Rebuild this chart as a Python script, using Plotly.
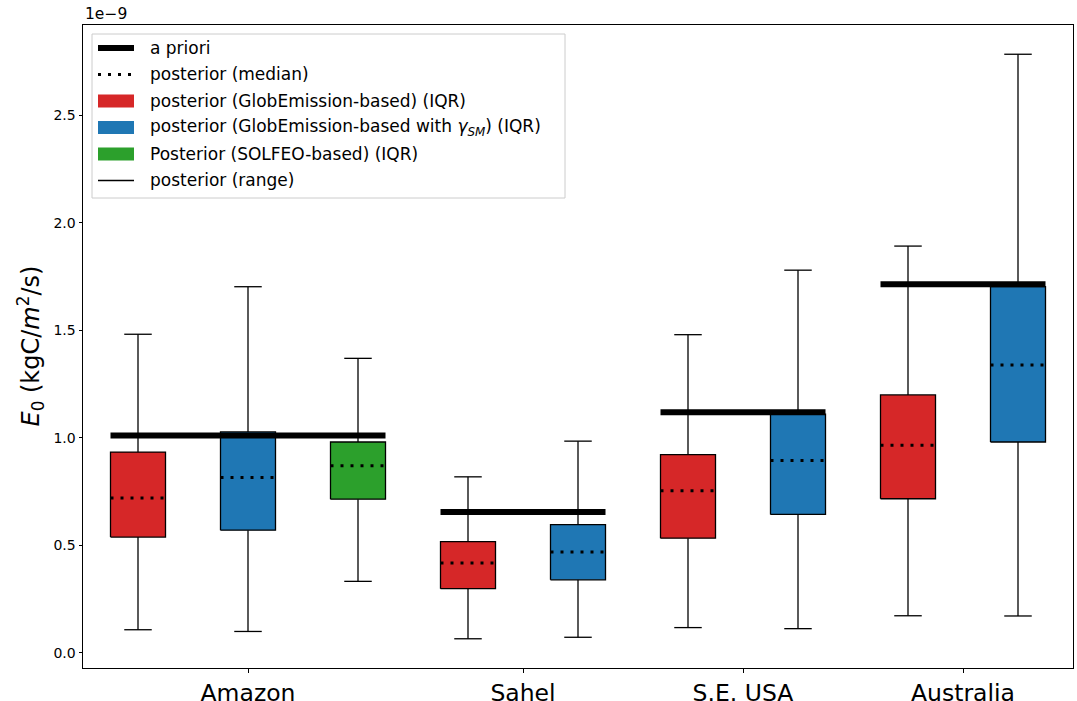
import plotly.graph_objects as go

# ---------------- data (values in units of 1e-9 kgC/m^2/s) ----------------
regions = ["Amazon", "Sahel", "S.E. USA", "Australia"]
region_ticks = [2.0, 4.5, 6.5, 8.5]
prior = [1.011, 0.655, 1.119, 1.714]

box_pos = [1, 2, 3, 4, 5, 6, 7, 8, 9]
box_region = [0, 0, 0, 1, 1, 2, 2, 3, 3]
box_kind = ["ge", "gesm", "solfeo", "ge", "gesm", "ge", "gesm", "ge", "gesm"]
range_lo = [0.108, 0.100, 0.333, 0.066, 0.073, 0.118, 0.113, 0.173, 0.172]
iqr_lo = [0.539, 0.571, 0.715, 0.299, 0.340, 0.534, 0.644, 0.717, 0.981]
median = [0.721, 0.816, 0.871, 0.418, 0.469, 0.754, 0.895, 0.966, 1.339]
iqr_hi = [0.934, 1.028, 0.981, 0.518, 0.597, 0.922, 1.110, 1.200, 1.703]
range_hi = [1.482, 1.703, 1.370, 0.819, 0.985, 1.480, 1.780, 1.892, 2.784]

y_ticks = [0.0, 0.5, 1.0, 1.5, 2.0, 2.5]

kind_color = {"ge": "#d62728", "gesm": "#1f77b4", "solfeo": "#2ca02c"}
legend_labels = [
    "a priori",
    "posterior (median)",
    "posterior (GlobEmission-based) (IQR)",
    "posterior (GlobEmission-based with <i>γ</i><sub><i>SM</i></sub>) (IQR)",
    "Posterior (SOLFEO-based) (IQR)",
    "posterior (range)",
]

# ---------------- style ----------------
FONT = "DejaVu Sans"
W, H = 1077, 701
ML, MR, MT, MB = 83, 4, 25, 33
HALF = 0.25      # half box width (data units)
CAP = 0.125      # half cap width

fig = go.Figure()

# whiskers
wx, wy, cx, cy = [], [], [], []
for p, lo, q1, q3, hi in zip(box_pos, range_lo, iqr_lo, iqr_hi, range_hi):
    wx += [p, p, None, p, p, None]
    wy += [lo, q1, None, q3, hi, None]
    cx += [p - CAP, p + CAP, None, p - CAP, p + CAP, None]
    cy += [lo, lo, None, hi, hi, None]
fig.add_trace(go.Scatter(x=wx, y=wy, mode="lines",
                         line=dict(color="black", width=1.3), hoverinfo="skip"))
fig.add_trace(go.Scatter(x=cx, y=cy, mode="lines",
                         line=dict(color="black", width=1.3), hoverinfo="skip"))

# boxes
for p, k, q1, q3 in zip(box_pos, box_kind, iqr_lo, iqr_hi):
    fig.add_trace(go.Scatter(
        x=[p - HALF, p + HALF, p + HALF, p - HALF, p - HALF],
        y=[q1, q1, q3, q3, q1],
        mode="lines", fill="toself", fillcolor=kind_color[k],
        line=dict(color="black", width=1.3), hoverinfo="skip"))

# medians
mx, my = [], []
for p, m in zip(box_pos, median):
    mx += [p - HALF, p + HALF, None]
    my += [m, m, None]
fig.add_trace(go.Scatter(x=mx, y=my, mode="lines",
                         line=dict(color="black", width=3, dash="3px,7px"),
                         hoverinfo="skip"))

# a priori lines
ax, ay = [], []
for r, val in enumerate(prior):
    ps = [p for p, br in zip(box_pos, box_region) if br == r]
    ax += [min(ps) - HALF, max(ps) + HALF, None]
    ay += [val, val, None]
fig.add_trace(go.Scatter(x=ax, y=ay, mode="lines",
                         line=dict(color="black", width=6), hoverinfo="skip"))

# ---------------- manual legend ----------------
PW, PH = W - ML - MR, H - MT - MB


def px(x):
    return (x - ML) / PW


def py(y):
    return (H - MB - y) / PH


shapes = []
annotations = []
shapes.append(dict(type="rect", xref="paper", yref="paper",
                   x0=px(92), x1=px(565), y0=py(198), y1=py(34),
                   line=dict(color="#cccccc", width=1),
                   fillcolor="rgba(255,255,255,0.85)", layer="above"))
rows = [48, 74.5, 101, 127.5, 154, 180.5]
hx0, hx1 = 98, 134
handles = [
    ("line", dict(color="black", width=6)),
    ("line", dict(color="black", width=3, dash="3px,7px")),
    ("patch", kind_color["ge"]),
    ("patch", kind_color["gesm"]),
    ("patch", kind_color["solfeo"]),
    ("line", dict(color="black", width=1.3)),
]
for yrow, (kind, sty), lab in zip(rows, handles, legend_labels):
    if kind == "line":
        shapes.append(dict(type="line", xref="paper", yref="paper",
                           x0=px(hx0), x1=px(hx1), y0=py(yrow), y1=py(yrow),
                           line=sty, layer="above"))
    else:
        shapes.append(dict(type="rect", xref="paper", yref="paper",
                           x0=px(hx0), x1=px(hx1), y0=py(yrow + 6.5),
                           y1=py(yrow - 6.5), fillcolor=sty,
                           line=dict(width=0), layer="above"))
    annotations.append(dict(xref="paper", yref="paper", x=px(148), y=py(yrow),
                            xanchor="left", yanchor="middle", showarrow=False,
                            text=lab, font=dict(family=FONT, size=17, color="black")))

# offset text and y label
annotations.append(dict(xref="paper", yref="paper", x=0, y=py(14),
                        xanchor="left", yanchor="middle", showarrow=False,
                        text="1e−9", font=dict(family=FONT, size=15.5, color="black")))
annotations.append(dict(xref="paper", yref="paper", x=px(30), y=0.5,
                        xanchor="center", yanchor="middle", showarrow=False,
                        textangle=-90,
                        text="<i>E</i><sub>0</sub> (kgC/<i>m</i><sup>2</sup>/s)",
                        font=dict(family=FONT, size=24, color="black")))

fig.update_layout(
    width=W, height=H,
    margin=dict(l=ML, r=MR, t=MT, b=MB, pad=0, autoexpand=False),
    plot_bgcolor="white", paper_bgcolor="white",
    showlegend=False,
    shapes=shapes, annotations=annotations,
    font=dict(family=FONT, color="black"),
    xaxis=dict(range=[0.5, 9.5], tickvals=region_ticks, ticktext=regions,
               ticks="outside", ticklen=3.5, tickwidth=1, tickcolor="black",
               showline=True, linecolor="black", linewidth=1, mirror=True,
               showgrid=False, zeroline=False, automargin=False,
               tickfont=dict(family=FONT, size=23.5, color="black")),
    yaxis=dict(range=[-0.0699, 2.920], tickvals=y_ticks,
               ticktext=[f"{v:.1f}" for v in y_ticks],
               ticks="outside", ticklen=3.5, tickwidth=1, tickcolor="black",
               showline=True, linecolor="black", linewidth=1, mirror=True,
               showgrid=False, zeroline=False, automargin=False,
               tickfont=dict(family=FONT, size=14, color="black")),
)

fig.write_html("out.html",
               config={"displayModeBar": False},
               post_script="document.body.style.margin='0';"
                           "document.body.style.overflow='hidden';")
